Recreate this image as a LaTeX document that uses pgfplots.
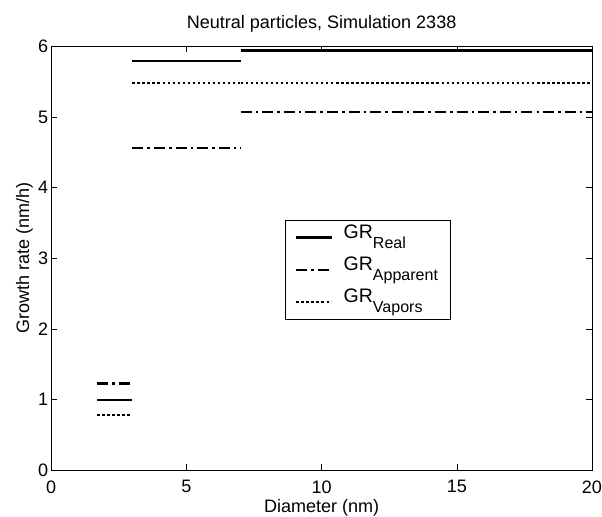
\documentclass[border=0pt]{standalone}
\usepackage{pgfplots}
\pgfplotsset{compat=1.18}
\usepackage{fontspec}
\setmainfont{Liberation Sans}
\newcommand{\sub}[1]{\raisebox{-10bp}{\fontsize{16}{18}\selectfont #1}}
\begin{document}
\begin{tikzpicture}
\begin{axis}[
  scale only axis,
  width=538bp, height=422bp,
  xmin=0, xmax=20, ymin=0, ymax=6,
  xtick={0,5,10,15,20}, ytick={0,1,2,3,4,5,6},
  tick align=inside,
  major tick length=6bp,
  axis line style={line width=0.8bp},
  every tick/.style={black, line width=0.6bp},
  /pgf/number format/assume math mode=true,
  ticklabel style={font=\fontsize{18}{20}\selectfont, inner sep=0pt},
  xticklabel style={yshift=-10bp},
  yticklabel style={xshift=-3bp},
  label style={font=\fontsize{18}{20}\selectfont, inner sep=0pt},
  title style={font=\fontsize{18}{20}\selectfont, inner sep=0pt, at={(axis description cs:0.5,1)}, anchor=base, yshift=12bp},
  title={\rule{0pt}{28bp}Neutral particles, Simulation 2338},
  xlabel={Diameter (nm)},
  ylabel={\rule{0pt}{29bp}Growth rate (nm/h)},
  xlabel style={at={(axis description cs:0.5,0)}, anchor=base, yshift=-42bp},
  ylabel style={at={(axis description cs:-0.0409,0.5)}, anchor=base},
  legend cell align=left,
  legend style={at={(0.432,0.59)}, anchor=north west, draw=black, line width=0.7bp,
    font=\fontsize{19.5}{21}\selectfont, row sep=0bp, column sep=9bp, inner xsep=10bp, inner ysep=1bp,
    nodes={inner sep=2bp, text height=15bp, text depth=13bp}},
  legend image code/.code={\draw[#1] (0bp,0bp) -- (35bp,0bp);},
  legend image post style={line width=2.2bp},
  clip=false,
]
\addplot[black, line width=2.2bp] coordinates {(1.7,1.0) (3,1.0)};
\addlegendentry{GR\sub{Real}}
\addplot[black, line width=2.2bp, dash pattern=on 11bp off 4bp on 2.5bp off 4bp] coordinates {(1.7,1.23) (3,1.23)};
\addlegendentry{GR\sub{Apparent}}
\addplot[black, line width=2.2bp, dash pattern=on 2.5bp off 2.5bp] coordinates {(1.7,0.78) (3,0.78)};
\addlegendentry{GR\sub{Vapors}}
\addplot[black, line width=2.2bp, forget plot] coordinates {(3,5.79) (7,5.79)};
\addplot[black, line width=2.2bp, forget plot] coordinates {(7,5.94) (20,5.94)};
\addplot[black, line width=2.2bp, dash pattern=on 11bp off 4bp on 2.5bp off 4bp, forget plot] coordinates {(3,4.56) (7,4.56)};
\addplot[black, line width=2.2bp, dash pattern=on 11bp off 4bp on 2.5bp off 4bp, forget plot] coordinates {(7,5.07) (20,5.07)};
\addplot[black, line width=2.2bp, dash pattern=on 2.5bp off 2.5bp, forget plot] coordinates {(3,5.48) (7,5.48)};
\addplot[black, line width=2.2bp, dash pattern=on 2.5bp off 2.5bp, forget plot] coordinates {(7,5.48) (20,5.48)};
\end{axis}
\end{tikzpicture}
\end{document}
